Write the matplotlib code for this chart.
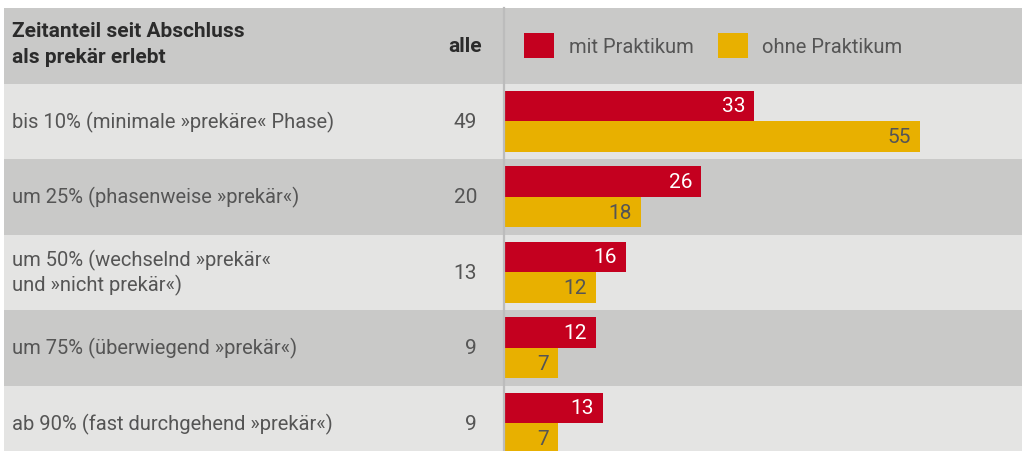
import matplotlib
matplotlib.use('Agg')
import matplotlib.pyplot as plt
from matplotlib.transforms import blended_transform_factory
from matplotlib.lines import Line2D

# Daten
kategorien = ['bis 10% (minimale »prekäre« Phase)',
              'um 25% (phasenweise »prekär«)',
              'um 50% (wechselnd »prekär«\nund »nicht prekär«)',
              'um 75% (überwiegend »prekär«)',
              'ab 90% (fast durchgehend »prekär«)']
alle = [49, 20, 13, 9, 9]
mit_praktikum = [33, 26, 16, 12, 13]
ohne_praktikum = [55, 18, 12, 7, 7]
kopf_links = 'Zeitanteil seit Abschluss\nals prekär erlebt'
kopf_mitte = 'alle'
serien = ['mit Praktikum', 'ohne Praktikum']

ROT = '#c4001f'
GELB = '#e8b000'
DUNKEL = '#c9c9c8'
HELL = '#e4e4e3'
GRAU_TEXT = '#555555'

plt.rcParams['font.family'] = ['Roboto', 'DejaVu Sans']
FS = 14.5

W, H = 1022, 452
fig = plt.figure(figsize=(W / 100, H / 100), dpi=100)
fig.patch.set_facecolor('white')

zeile = 75.5  # Pixel pro Zeile
oben = 9
y_max = (H - oben) / zeile

# Hintergrund (Tabelle)
ax_bg = fig.add_axes([4 / W, 0, 1 - 4 / W, (H - oben) / H])
ax_bg.set_xlim(0, 1)
ax_bg.set_ylim(y_max, 0)
ax_bg.axis('off')
ax_bg.axhspan(0, 1, color=DUNKEL, lw=0)
for i in range(len(kategorien)):
    ax_bg.axhspan(i + 1, i + 2, color=HELL if i % 2 == 0 else DUNKEL, lw=0)

# Trennlinie
fig.add_artist(Line2D([503.5 / W] * 2, [0, (H - oben) / H], color='#bcbcbc', lw=1.6))

tr = blended_transform_factory(fig.transFigure, ax_bg.transData)
ax_bg.text(12 / W, 0.47, kopf_links, transform=tr, ha='left', va='center',
           fontsize=FS + 0.5, fontweight='bold', color='#2b2b2b', linespacing=1.45)
ax_bg.text(482 / W, 0.5, kopf_mitte, transform=tr, ha='right', va='center',
           fontsize=FS + 0.5, fontweight='bold', color='#2b2b2b')
for i, (k, a) in enumerate(zip(kategorien, alle)):
    y = i + 1.5
    ax_bg.text(12 / W, y, k, transform=tr, ha='left', va='center',
               fontsize=FS, color=GRAU_TEXT, linespacing=1.25)
    ax_bg.text(477 / W, y, str(a), transform=tr, ha='right', va='center',
               fontsize=FS + 0.5, color=GRAU_TEXT)

# Balken
ax = fig.add_axes([505 / W, 0, 1 - 505 / W, (H - oben) / H])
ax.set_xlim(0, (W - 505) / 7.55)
ax.set_ylim(y_max, 0)
ax.axis('off')
ax.patch.set_alpha(0)

mitte = [i + 1.5 for i in range(len(kategorien))]
h = 0.405
b1 = ax.barh([m - 0.203 for m in mitte], mit_praktikum, height=h, color=ROT, label=serien[0])
b2 = ax.barh([m + 0.203 for m in mitte], ohne_praktikum, height=h, color=GELB, label=serien[1])
ax.bar_label(b1, padding=-6.5, color='white', fontsize=FS + 0.5)
ax.bar_label(b2, padding=-6.5, color=GRAU_TEXT, fontsize=FS + 0.5)
for t in ax.texts:
    t.set_ha('right')

leg = ax.legend(loc='center left', bbox_to_anchor=(19 / (W - 505), 1 - 0.5 / y_max), ncol=2,
                frameon=False, fontsize=FS, handlelength=1.5, handleheight=1.5,
                handletextpad=0.72, columnspacing=1.2, labelcolor=GRAU_TEXT,
                borderaxespad=0, borderpad=0)

fig.savefig('out.png', dpi=100)
